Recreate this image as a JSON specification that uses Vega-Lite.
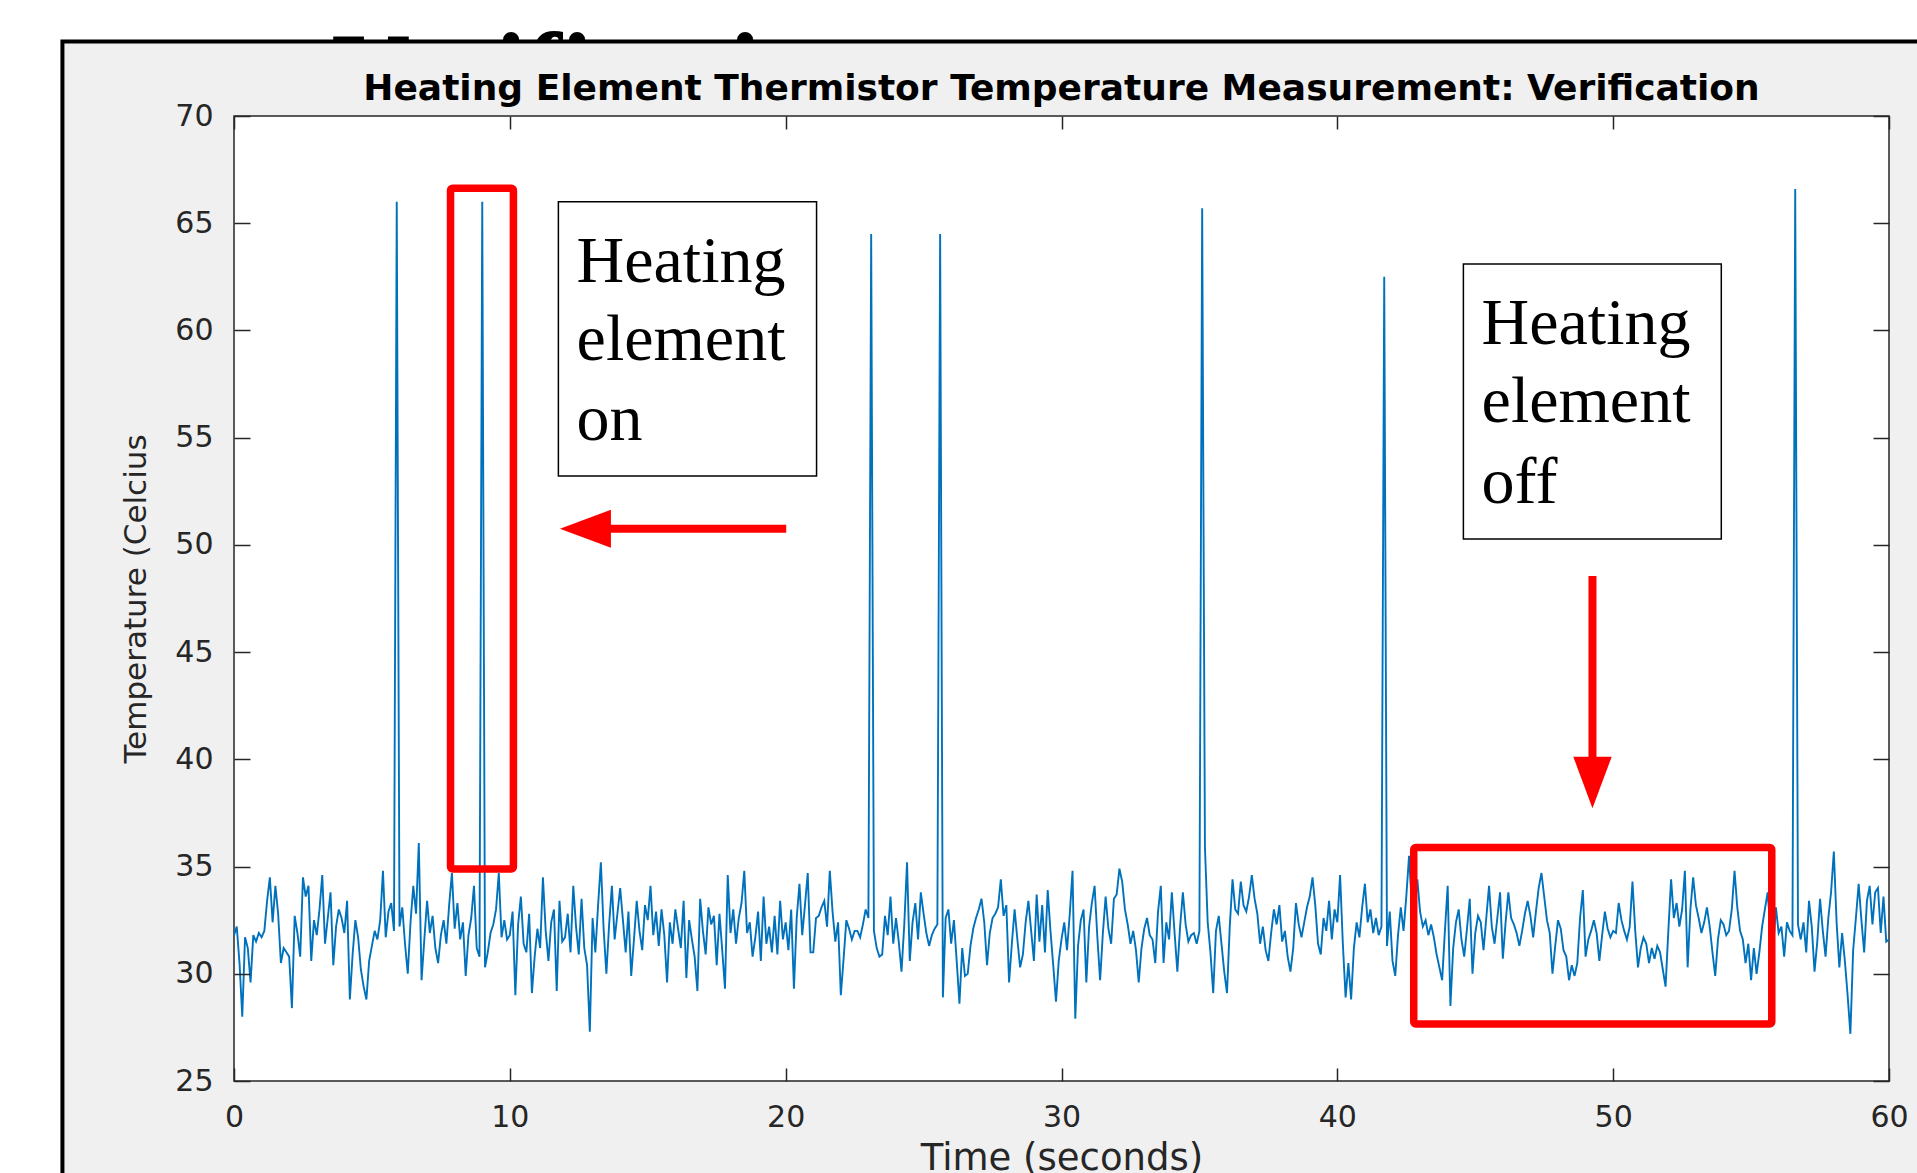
{
"$schema":"https://vega.github.io/schema/vega-lite/v6.json",
"width":1655,"height":965,
"autosize":{"type":"none"},
"padding":{"left":234,"top":116,"right":28,"bottom":92},
"background":"white",
"config":{"view":{"stroke":null},"axis":{"grid":false,"domain":false}},
"datasets":{
"heading":[{"t":3.55,"v":70.4,"label":"Verification"}],
"frame":[{"x1":-6.22,"x2":70,"y1":73.47,"y2":10}],
"plot":[{"x1":0,"x2":60,"y1":25,"y2":70}],
"redbox":[{"x1":7.85,"x2":10.13,"y1":66.63,"y2":34.89},{"x1":42.77,"x2":55.75,"y1":35.89,"y2":27.66}],
"shaft":[{"x1":13.4,"x2":20.02,"y1":50.75,"y2":50.75},{"x1":49.25,"x2":49.25,"y1":48.55,"y2":39.6}],
"headleft":[{"t":12.74,"v":50.75}],
"headdown":[{"t":49.25,"v":38.92}],
"tbox":[{"x1":11.76,"x2":21.12,"y1":66.0,"y2":53.21},{"x1":44.57,"x2":53.92,"y1":63.1,"y2":50.28}],
"tlines":[{"t":12.42,"v":62.27,"label":"Heating"},{"t":12.42,"v":58.62,"label":"element"},{"t":12.42,"v":54.89,"label":"on"},{"t":45.23,"v":59.35,"label":"Heating"},{"t":45.23,"v":55.74,"label":"element"},{"t":45.23,"v":51.94,"label":"off"}],
"ttl":[{"t":30,"v":70.75,"label":"Heating Element Thermistor Temperature Measurement: Verification"}],
"sig":[
{"t":0,"v":31.8},{"t":0.1,"v":32.2},{"t":0.2,"v":30.5},{"t":0.3,"v":28.0},{"t":0.4,"v":31.7},{"t":0.5,"v":31.2},{"t":0.6,"v":29.6},{"t":0.7,"v":31.8},{"t":0.8,"v":31.5},{"t":0.9,"v":31.9},
{"t":1,"v":31.7},{"t":1.1,"v":32.0},{"t":1.2,"v":33.4},{"t":1.3,"v":34.5},{"t":1.4,"v":32.4},{"t":1.5,"v":34.1},{"t":1.6,"v":32.8},{"t":1.7,"v":30.5},{"t":1.8,"v":31.2},{"t":1.9,"v":31.0},
{"t":2,"v":30.8},{"t":2.1,"v":28.4},{"t":2.2,"v":32.7},{"t":2.3,"v":31.9},{"t":2.4,"v":30.8},{"t":2.5,"v":34.5},{"t":2.6,"v":33.6},{"t":2.7,"v":34.1},{"t":2.8,"v":30.6},{"t":2.9,"v":32.5},
{"t":3,"v":31.8},{"t":3.1,"v":33.0},{"t":3.2,"v":34.6},{"t":3.3,"v":31.4},{"t":3.4,"v":32.6},{"t":3.5,"v":33.8},{"t":3.6,"v":30.4},{"t":3.7,"v":32.2},{"t":3.8,"v":33.0},{"t":3.9,"v":32.6},
{"t":4,"v":31.9},{"t":4.1,"v":33.4},{"t":4.2,"v":28.8},{"t":4.3,"v":30.9},{"t":4.4,"v":32.5},{"t":4.5,"v":31.7},{"t":4.6,"v":30.2},{"t":4.7,"v":29.4},{"t":4.8,"v":28.8},{"t":4.9,"v":30.6},
{"t":5,"v":31.3},{"t":5.1,"v":32.0},{"t":5.2,"v":31.6},{"t":5.3,"v":32.5},{"t":5.4,"v":34.8},{"t":5.5,"v":31.7},{"t":5.6,"v":32.9},{"t":5.7,"v":33.3},{"t":5.8,"v":32.0},{"t":5.9,"v":66.0},
{"t":6,"v":32.2},{"t":6.1,"v":33.1},{"t":6.2,"v":31.4},{"t":6.3,"v":30.0},{"t":6.4,"v":32.4},{"t":6.5,"v":34.1},{"t":6.6,"v":32.8},{"t":6.7,"v":36.1},{"t":6.8,"v":29.7},{"t":6.9,"v":31.6},
{"t":7,"v":33.4},{"t":7.1,"v":31.9},{"t":7.2,"v":32.7},{"t":7.3,"v":31.2},{"t":7.4,"v":30.5},{"t":7.5,"v":31.8},{"t":7.6,"v":32.5},{"t":7.7,"v":31.4},{"t":7.8,"v":33.2},{"t":7.9,"v":34.7},
{"t":8,"v":32.1},{"t":8.1,"v":33.3},{"t":8.2,"v":31.6},{"t":8.3,"v":32.4},{"t":8.4,"v":29.9},{"t":8.5,"v":31.8},{"t":8.6,"v":32.6},{"t":8.7,"v":34.1},{"t":8.8,"v":31.2},{"t":8.9,"v":30.8},
{"t":9,"v":66.0},{"t":9.1,"v":30.3},{"t":9.2,"v":31.0},{"t":9.3,"v":31.9},{"t":9.4,"v":32.3},{"t":9.5,"v":33.0},{"t":9.6,"v":34.7},{"t":9.7,"v":31.7},{"t":9.8,"v":32.5},{"t":9.9,"v":31.6},
{"t":10,"v":31.8},{"t":10.1,"v":32.9},{"t":10.2,"v":29.0},{"t":10.3,"v":32.3},{"t":10.4,"v":33.6},{"t":10.5,"v":31.4},{"t":10.6,"v":31.0},{"t":10.7,"v":32.8},{"t":10.8,"v":29.1},{"t":10.9,"v":30.8},
{"t":11,"v":32.1},{"t":11.1,"v":31.2},{"t":11.2,"v":34.5},{"t":11.3,"v":32.0},{"t":11.4,"v":30.6},{"t":11.5,"v":32.4},{"t":11.6,"v":33.0},{"t":11.7,"v":29.2},{"t":11.8,"v":33.4},{"t":11.9,"v":31.5},
{"t":12,"v":31.7},{"t":12.1,"v":32.8},{"t":12.2,"v":31.0},{"t":12.3,"v":34.1},{"t":12.4,"v":32.2},{"t":12.5,"v":30.9},{"t":12.6,"v":33.5},{"t":12.7,"v":31.2},{"t":12.8,"v":30.4},{"t":12.9,"v":27.3},
{"t":13,"v":32.6},{"t":13.1,"v":31.0},{"t":13.2,"v":33.2},{"t":13.3,"v":35.2},{"t":13.4,"v":32.1},{"t":13.5,"v":30.0},{"t":13.6,"v":32.3},{"t":13.7,"v":34.1},{"t":13.8,"v":31.6},{"t":13.9,"v":32.8},
{"t":14,"v":34.0},{"t":14.1,"v":32.5},{"t":14.2,"v":31.0},{"t":14.3,"v":32.9},{"t":14.4,"v":29.9},{"t":14.5,"v":31.6},{"t":14.6,"v":33.4},{"t":14.7,"v":32.0},{"t":14.8,"v":31.1},{"t":14.9,"v":33.2},
{"t":15,"v":32.5},{"t":15.1,"v":34.1},{"t":15.2,"v":31.8},{"t":15.3,"v":32.9},{"t":15.4,"v":31.3},{"t":15.5,"v":33.0},{"t":15.6,"v":31.8},{"t":15.7,"v":29.6},{"t":15.8,"v":32.4},{"t":15.9,"v":31.4},
{"t":16,"v":33.0},{"t":16.1,"v":32.1},{"t":16.2,"v":31.2},{"t":16.3,"v":33.4},{"t":16.4,"v":29.8},{"t":16.5,"v":32.5},{"t":16.6,"v":31.6},{"t":16.7,"v":30.8},{"t":16.8,"v":29.2},{"t":16.9,"v":33.5},
{"t":17,"v":32.0},{"t":17.1,"v":30.9},{"t":17.2,"v":33.1},{"t":17.3,"v":32.3},{"t":17.4,"v":32.7},{"t":17.5,"v":30.4},{"t":17.6,"v":32.8},{"t":17.7,"v":31.1},{"t":17.8,"v":29.3},{"t":17.9,"v":34.6},
{"t":18,"v":31.9},{"t":18.1,"v":33.0},{"t":18.2,"v":31.4},{"t":18.3,"v":32.6},{"t":18.4,"v":33.3},{"t":18.5,"v":34.8},{"t":18.6,"v":31.9},{"t":18.7,"v":32.4},{"t":18.8,"v":30.8},{"t":18.9,"v":31.7},
{"t":19,"v":32.9},{"t":19.1,"v":30.6},{"t":19.2,"v":33.6},{"t":19.3,"v":31.4},{"t":19.4,"v":32.2},{"t":19.5,"v":31.0},{"t":19.6,"v":32.7},{"t":19.7,"v":30.9},{"t":19.8,"v":33.4},{"t":19.9,"v":31.6},
{"t":20,"v":32.4},{"t":20.1,"v":31.1},{"t":20.2,"v":33.0},{"t":20.3,"v":29.3},{"t":20.4,"v":32.6},{"t":20.5,"v":34.2},{"t":20.6,"v":31.8},{"t":20.7,"v":33.2},{"t":20.8,"v":34.7},{"t":20.9,"v":31.0},
{"t":21,"v":31.0},{"t":21.1,"v":32.6},{"t":21.2,"v":32.7},{"t":21.3,"v":33.1},{"t":21.4,"v":33.4},{"t":21.5,"v":32.2},{"t":21.6,"v":34.8},{"t":21.7,"v":32.9},{"t":21.8,"v":31.5},{"t":21.9,"v":32.4},
{"t":22,"v":29.0},{"t":22.1,"v":30.7},{"t":22.2,"v":32.5},{"t":22.3,"v":32.1},{"t":22.4,"v":31.6},{"t":22.5,"v":32.0},{"t":22.6,"v":32.0},{"t":22.7,"v":31.7},{"t":22.8,"v":32.3},{"t":22.9,"v":33.0},
{"t":23,"v":32.6},{"t":23.1,"v":64.5},{"t":23.2,"v":32.0},{"t":23.3,"v":31.2},{"t":23.4,"v":30.8},{"t":23.5,"v":30.9},{"t":23.6,"v":32.7},{"t":23.7,"v":31.8},{"t":23.8,"v":33.6},{"t":23.9,"v":31.4},
{"t":24,"v":32.6},{"t":24.1,"v":31.5},{"t":24.2,"v":30.1},{"t":24.3,"v":32.3},{"t":24.4,"v":35.2},{"t":24.5,"v":30.6},{"t":24.6,"v":32.4},{"t":24.7,"v":33.3},{"t":24.8,"v":31.6},{"t":24.9,"v":33.8},
{"t":25,"v":32.8},{"t":25.1,"v":31.9},{"t":25.2,"v":31.3},{"t":25.3,"v":31.8},{"t":25.4,"v":32.1},{"t":25.5,"v":32.3},{"t":25.6,"v":64.5},{"t":25.7,"v":28.9},{"t":25.8,"v":32.6},{"t":25.9,"v":33.0},
{"t":26,"v":31.4},{"t":26.1,"v":32.5},{"t":26.2,"v":30.6},{"t":26.3,"v":28.6},{"t":26.4,"v":31.2},{"t":26.5,"v":29.9},{"t":26.6,"v":30.0},{"t":26.7,"v":31.3},{"t":26.8,"v":32.1},{"t":26.9,"v":32.6},
{"t":27,"v":33.0},{"t":27.1,"v":33.5},{"t":27.2,"v":32.4},{"t":27.3,"v":30.4},{"t":27.4,"v":31.9},{"t":27.5,"v":32.6},{"t":27.6,"v":32.8},{"t":27.7,"v":33.1},{"t":27.8,"v":34.4},{"t":27.9,"v":32.7},
{"t":28,"v":33.2},{"t":28.1,"v":29.6},{"t":28.2,"v":31.4},{"t":28.3,"v":33.0},{"t":28.4,"v":31.6},{"t":28.5,"v":30.3},{"t":28.6,"v":30.9},{"t":28.7,"v":32.4},{"t":28.8,"v":33.4},{"t":28.9,"v":32.0},
{"t":29,"v":30.6},{"t":29.1,"v":33.7},{"t":29.2,"v":31.5},{"t":29.3,"v":33.2},{"t":29.4,"v":31.0},{"t":29.5,"v":33.9},{"t":29.6,"v":32.0},{"t":29.7,"v":30.4},{"t":29.8,"v":28.7},{"t":29.9,"v":30.6},
{"t":30,"v":31.6},{"t":30.1,"v":32.4},{"t":30.2,"v":31.1},{"t":30.3,"v":32.8},{"t":30.4,"v":34.8},{"t":30.5,"v":27.9},{"t":30.6,"v":31.3},{"t":30.7,"v":32.5},{"t":30.8,"v":33.0},{"t":30.9,"v":29.6},
{"t":31,"v":32.2},{"t":31.1,"v":33.3},{"t":31.2,"v":34.1},{"t":31.3,"v":31.7},{"t":31.4,"v":29.7},{"t":31.5,"v":31.9},{"t":31.6,"v":33.6},{"t":31.7,"v":32.1},{"t":31.8,"v":31.4},{"t":31.9,"v":33.5},
{"t":32,"v":33.7},{"t":32.1,"v":34.9},{"t":32.2,"v":34.3},{"t":32.3,"v":33.0},{"t":32.4,"v":32.3},{"t":32.5,"v":31.4},{"t":32.6,"v":32.0},{"t":32.7,"v":31.1},{"t":32.8,"v":29.6},{"t":32.9,"v":31.2},
{"t":33,"v":32.1},{"t":33.1,"v":32.6},{"t":33.2,"v":31.8},{"t":33.3,"v":31.6},{"t":33.4,"v":30.5},{"t":33.5,"v":32.9},{"t":33.6,"v":34.1},{"t":33.7,"v":30.5},{"t":33.8,"v":32.4},{"t":33.9,"v":31.6},
{"t":34,"v":33.8},{"t":34.1,"v":31.9},{"t":34.2,"v":30.1},{"t":34.3,"v":32.2},{"t":34.4,"v":33.8},{"t":34.5,"v":32.3},{"t":34.6,"v":31.5},{"t":34.7,"v":31.8},{"t":34.8,"v":31.9},{"t":34.9,"v":31.4},
{"t":35,"v":32.0},{"t":35.1,"v":65.7},{"t":35.2,"v":35.9},{"t":35.3,"v":32.4},{"t":35.4,"v":31.0},{"t":35.5,"v":29.1},{"t":35.6,"v":32.0},{"t":35.7,"v":32.7},{"t":35.8,"v":31.4},{"t":35.9,"v":30.1},
{"t":36,"v":29.1},{"t":36.1,"v":32.2},{"t":36.2,"v":34.4},{"t":36.3,"v":33.0},{"t":36.4,"v":32.8},{"t":36.5,"v":34.3},{"t":36.6,"v":33.2},{"t":36.7,"v":32.9},{"t":36.8,"v":33.6},{"t":36.9,"v":34.6},
{"t":37,"v":33.5},{"t":37.1,"v":32.8},{"t":37.2,"v":31.4},{"t":37.3,"v":32.2},{"t":37.4,"v":31.1},{"t":37.5,"v":30.6},{"t":37.6,"v":31.9},{"t":37.7,"v":33.0},{"t":37.8,"v":32.3},{"t":37.9,"v":33.2},
{"t":38,"v":31.5},{"t":38.1,"v":32.0},{"t":38.2,"v":30.8},{"t":38.3,"v":30.1},{"t":38.4,"v":31.2},{"t":38.5,"v":33.3},{"t":38.6,"v":32.3},{"t":38.7,"v":31.7},{"t":38.8,"v":32.4},{"t":38.9,"v":33.1},
{"t":39,"v":33.6},{"t":39.1,"v":34.5},{"t":39.2,"v":33.2},{"t":39.3,"v":31.4},{"t":39.4,"v":30.9},{"t":39.5,"v":32.6},{"t":39.6,"v":32.0},{"t":39.7,"v":33.4},{"t":39.8,"v":31.6},{"t":39.9,"v":33.0},
{"t":40,"v":32.4},{"t":40.1,"v":34.6},{"t":40.2,"v":31.4},{"t":40.3,"v":28.9},{"t":40.4,"v":30.5},{"t":40.5,"v":28.8},{"t":40.6,"v":31.2},{"t":40.7,"v":32.4},{"t":40.8,"v":31.7},{"t":40.9,"v":33.1},
{"t":41,"v":34.2},{"t":41.1,"v":32.4},{"t":41.2,"v":33.0},{"t":41.3,"v":31.9},{"t":41.4,"v":32.6},{"t":41.5,"v":31.8},{"t":41.6,"v":32.2},{"t":41.7,"v":62.5},{"t":41.8,"v":31.3},{"t":41.9,"v":32.9},
{"t":42,"v":30.6},{"t":42.1,"v":29.9},{"t":42.2,"v":31.8},{"t":42.3,"v":33.1},{"t":42.4,"v":32.0},{"t":42.5,"v":33.6},{"t":42.6,"v":35.5},{"t":42.7,"v":33.2},{"t":42.8,"v":32.9},{"t":42.9,"v":34.4},
{"t":43,"v":32.9},{"t":43.1,"v":32.2},{"t":43.2,"v":32.5},{"t":43.3,"v":31.8},{"t":43.4,"v":32.3},{"t":43.5,"v":31.7},{"t":43.6,"v":30.9},{"t":43.7,"v":30.3},{"t":43.8,"v":29.7},{"t":43.9,"v":32.0},
{"t":44,"v":34.1},{"t":44.1,"v":28.5},{"t":44.2,"v":31.2},{"t":44.3,"v":32.4},{"t":44.4,"v":33.0},{"t":44.5,"v":31.6},{"t":44.6,"v":30.8},{"t":44.7,"v":32.1},{"t":44.8,"v":33.5},{"t":44.9,"v":30.0},
{"t":45,"v":31.9},{"t":45.1,"v":32.7},{"t":45.2,"v":32.4},{"t":45.3,"v":31.1},{"t":45.4,"v":32.6},{"t":45.5,"v":34.1},{"t":45.6,"v":32.2},{"t":45.7,"v":31.4},{"t":45.8,"v":32.6},{"t":45.9,"v":33.8},
{"t":46,"v":30.7},{"t":46.1,"v":32.4},{"t":46.2,"v":33.8},{"t":46.3,"v":32.6},{"t":46.4,"v":32.3},{"t":46.5,"v":31.9},{"t":46.6,"v":31.3},{"t":46.7,"v":32.0},{"t":46.8,"v":32.8},{"t":46.9,"v":33.4},
{"t":47,"v":32.7},{"t":47.1,"v":31.7},{"t":47.2,"v":32.9},{"t":47.3,"v":34.0},{"t":47.4,"v":34.7},{"t":47.5,"v":33.6},{"t":47.6,"v":32.5},{"t":47.7,"v":31.9},{"t":47.8,"v":30.0},{"t":47.9,"v":31.3},
{"t":48,"v":32.5},{"t":48.1,"v":32.1},{"t":48.2,"v":31.1},{"t":48.3,"v":30.8},{"t":48.4,"v":29.7},{"t":48.5,"v":30.4},{"t":48.6,"v":29.9},{"t":48.7,"v":30.5},{"t":48.8,"v":32.6},{"t":48.9,"v":33.9},
{"t":49,"v":30.8},{"t":49.1,"v":31.6},{"t":49.2,"v":32.0},{"t":49.3,"v":32.5},{"t":49.4,"v":31.9},{"t":49.5,"v":30.6},{"t":49.6,"v":31.8},{"t":49.7,"v":32.9},{"t":49.8,"v":32.1},{"t":49.9,"v":31.7},
{"t":50,"v":32.0},{"t":50.1,"v":31.9},{"t":50.2,"v":33.3},{"t":50.3,"v":32.5},{"t":50.4,"v":32.0},{"t":50.5,"v":31.6},{"t":50.6,"v":32.2},{"t":50.7,"v":34.3},{"t":50.8,"v":32.0},{"t":50.9,"v":30.3},
{"t":51,"v":31.2},{"t":51.1,"v":31.7},{"t":51.2,"v":31.4},{"t":51.3,"v":30.5},{"t":51.4,"v":31.2},{"t":51.5,"v":30.7},{"t":51.6,"v":31.3},{"t":51.7,"v":31.0},{"t":51.8,"v":30.2},{"t":51.9,"v":29.4},
{"t":52,"v":32.0},{"t":52.1,"v":34.4},{"t":52.2,"v":32.6},{"t":52.3,"v":33.3},{"t":52.4,"v":32.2},{"t":52.5,"v":33.0},{"t":52.6,"v":34.8},{"t":52.7,"v":30.3},{"t":52.8,"v":33.0},{"t":52.9,"v":34.5},
{"t":53,"v":33.2},{"t":53.1,"v":32.6},{"t":53.2,"v":31.9},{"t":53.3,"v":32.4},{"t":53.4,"v":33.1},{"t":53.5,"v":32.2},{"t":53.6,"v":31.0},{"t":53.7,"v":29.9},{"t":53.8,"v":31.6},{"t":53.9,"v":32.5},
{"t":54,"v":32.3},{"t":54.1,"v":31.8},{"t":54.2,"v":32.0},{"t":54.3,"v":33.0},{"t":54.4,"v":34.8},{"t":54.5,"v":33.1},{"t":54.6,"v":32.0},{"t":54.7,"v":31.6},{"t":54.8,"v":30.5},{"t":54.9,"v":31.4},
{"t":55,"v":29.7},{"t":55.1,"v":31.2},{"t":55.2,"v":30.0},{"t":55.3,"v":31.0},{"t":55.4,"v":32.2},{"t":55.5,"v":33.0},{"t":55.6,"v":33.8},{"t":55.7,"v":32.1},{"t":55.8,"v":31.2},{"t":55.9,"v":33.1},
{"t":56,"v":31.9},{"t":56.1,"v":32.2},{"t":56.2,"v":30.8},{"t":56.3,"v":32.4},{"t":56.4,"v":32.0},{"t":56.5,"v":31.8},{"t":56.6,"v":66.6},{"t":56.7,"v":32.3},{"t":56.8,"v":31.6},{"t":56.9,"v":32.4},
{"t":57,"v":31.0},{"t":57.1,"v":33.4},{"t":57.2,"v":32.2},{"t":57.3,"v":30.1},{"t":57.4,"v":31.5},{"t":57.5,"v":33.5},{"t":57.6,"v":32.0},{"t":57.7,"v":30.8},{"t":57.8,"v":32.6},{"t":57.9,"v":33.8},
{"t":58,"v":35.7},{"t":58.1,"v":32.4},{"t":58.2,"v":30.3},{"t":58.3,"v":31.9},{"t":58.4,"v":30.6},{"t":58.5,"v":29.0},{"t":58.6,"v":27.2},{"t":58.7,"v":31.1},{"t":58.8,"v":32.6},{"t":58.9,"v":34.2},
{"t":59,"v":32.5},{"t":59.1,"v":31.0},{"t":59.2,"v":33.4},{"t":59.3,"v":34.1},{"t":59.4,"v":32.3},{"t":59.5,"v":33.8},{"t":59.6,"v":34.0},{"t":59.7,"v":31.9},{"t":59.8,"v":33.6},{"t":59.9,"v":31.5},
{"t":60,"v":31.6}
]
},
"layer":[
{"data":{"name":"heading"},
 "mark":{"type":"text","font":"Liberation Serif","fontWeight":"bold","fontSize":108,"align":"left","baseline":"alphabetic","color":"#000000"},
 "encoding":{"x":{"field":"t","type":"quantitative","scale":{"domain":[0,60],"nice":false,"zero":false},"axis":null},
  "y":{"field":"v","type":"quantitative","scale":{"domain":[25,70],"nice":false,"zero":false},"axis":null},
  "text":{"field":"label","type":"nominal"}}},
{"data":{"name":"frame"},
 "mark":{"type":"rect","fill":"#f0f0f0","stroke":"#000000","strokeWidth":4},
 "encoding":{"x":{"field":"x1","type":"quantitative","scale":{"domain":[0,60],"nice":false,"zero":false},"axis":null},"x2":{"field":"x2"},
  "y":{"field":"y1","type":"quantitative","scale":{"domain":[25,70],"nice":false,"zero":false},"axis":null},"y2":{"field":"y2"}}},
{"data":{"name":"plot"},
 "mark":{"type":"rect","fill":"#ffffff","stroke":"#262626","strokeWidth":1.5},
 "encoding":{"x":{"field":"x1","type":"quantitative","scale":{"domain":[0,60],"nice":false,"zero":false},
   "axis":{"orient":"top","values":[0,10,20,30,40,50,60],"labels":false,"title":null,"ticks":true,"tickSize":-13,"tickWidth":1.5,"tickColor":"#262626","zindex":1}},
  "x2":{"field":"x2"},
  "y":{"field":"y1","type":"quantitative","scale":{"domain":[25,70],"nice":false,"zero":false},
   "axis":{"orient":"right","values":[25,30,35,40,45,50,55,60,65,70],"labels":false,"title":null,"ticks":true,"tickSize":-16,"tickWidth":1.5,"tickColor":"#262626","zindex":1}},
  "y2":{"field":"y2"}}},
{"data":{"name":"sig"},
 "mark":{"type":"line","color":"#0072BD","strokeWidth":1.9},
 "encoding":{"x":{"field":"t","type":"quantitative","scale":{"domain":[0,60],"nice":false,"zero":false},
   "axis":{"orient":"bottom","values":[0,10,20,30,40,50,60],"format":"d","ticks":true,"tickSize":-13,"tickWidth":1.5,"tickColor":"#262626",
    "labelFont":"DejaVu Sans","labelFontSize":30,"labelColor":"#262626","labelPadding":34,"labelFlush":false,"labelOverlap":false,
    "title":"Time (seconds)","titleFont":"DejaVu Sans","titleFontSize":37,"titleFontWeight":"normal","titleColor":"#262626","titlePadding":8,"zindex":1}},
  "y":{"field":"v","type":"quantitative","scale":{"domain":[25,70],"nice":false,"zero":false},
   "axis":{"orient":"left","values":[25,30,35,40,45,50,55,60,65,70],"format":"d","ticks":true,"tickSize":-16,"tickWidth":1.5,"tickColor":"#262626",
    "labelFont":"DejaVu Sans","labelFontSize":30,"labelColor":"#262626","labelPadding":37,"labelOverlap":false,"labelFlush":false,
    "title":"Temperature (Celcius","titleFont":"DejaVu Sans","titleFontSize":31,"titleFontWeight":"normal","titleColor":"#262626","titlePadding":22,"zindex":1}}}},
{"data":{"name":"redbox"},
 "mark":{"type":"rect","fill":null,"fillOpacity":0,"stroke":"#ff0000","strokeWidth":7.5,"cornerRadius":2},
 "encoding":{"x":{"field":"x1","type":"quantitative","scale":{"domain":[0,60],"nice":false,"zero":false},"axis":null},"x2":{"field":"x2"},
  "y":{"field":"y1","type":"quantitative","scale":{"domain":[25,70],"nice":false,"zero":false},"axis":null},"y2":{"field":"y2"}}},
{"data":{"name":"shaft"},
 "mark":{"type":"rule","color":"#ff0000","strokeWidth":8,"strokeCap":"butt"},
 "encoding":{"x":{"field":"x1","type":"quantitative","scale":{"domain":[0,60],"nice":false,"zero":false},"axis":null},"x2":{"field":"x2"},
  "y":{"field":"y1","type":"quantitative","scale":{"domain":[25,70],"nice":false,"zero":false},"axis":null},"y2":{"field":"y2"}}},
{"data":{"name":"headleft"},
 "mark":{"type":"point","shape":"M-1,0L1,-0.745L1,0.745Z","filled":true,"color":"#ff0000","opacity":1,"size":2601,"strokeWidth":0},
 "encoding":{"x":{"field":"t","type":"quantitative","scale":{"domain":[0,60],"nice":false,"zero":false},"axis":null},
  "y":{"field":"v","type":"quantitative","scale":{"domain":[25,70],"nice":false,"zero":false},"axis":null}}},
{"data":{"name":"headdown"},
 "mark":{"type":"point","shape":"M0,1L-0.745,-1L0.745,-1Z","filled":true,"color":"#ff0000","opacity":1,"size":2663,"strokeWidth":0},
 "encoding":{"x":{"field":"t","type":"quantitative","scale":{"domain":[0,60],"nice":false,"zero":false},"axis":null},
  "y":{"field":"v","type":"quantitative","scale":{"domain":[25,70],"nice":false,"zero":false},"axis":null}}},
{"data":{"name":"tbox"},
 "mark":{"type":"rect","fill":"#ffffff","stroke":"#000000","strokeWidth":1.5},
 "encoding":{"x":{"field":"x1","type":"quantitative","scale":{"domain":[0,60],"nice":false,"zero":false},"axis":null},"x2":{"field":"x2"},
  "y":{"field":"y1","type":"quantitative","scale":{"domain":[25,70],"nice":false,"zero":false},"axis":null},"y2":{"field":"y2"}}},
{"data":{"name":"tlines"},
 "mark":{"type":"text","font":"Liberation Serif","fontSize":66,"align":"left","baseline":"alphabetic","color":"#000000"},
 "encoding":{"x":{"field":"t","type":"quantitative","scale":{"domain":[0,60],"nice":false,"zero":false},"axis":null},
  "y":{"field":"v","type":"quantitative","scale":{"domain":[25,70],"nice":false,"zero":false},"axis":null},
  "text":{"field":"label","type":"nominal"}}},
{"data":{"name":"ttl"},
 "mark":{"type":"text","font":"DejaVu Sans","fontWeight":"bold","fontSize":36,"align":"center","baseline":"alphabetic","color":"#000000"},
 "encoding":{"x":{"field":"t","type":"quantitative","scale":{"domain":[0,60],"nice":false,"zero":false},"axis":null},
  "y":{"field":"v","type":"quantitative","scale":{"domain":[25,70],"nice":false,"zero":false},"axis":null},
  "text":{"field":"label","type":"nominal"}}}
],
"resolve":{"axis":{"x":"independent","y":"independent"}}
}
